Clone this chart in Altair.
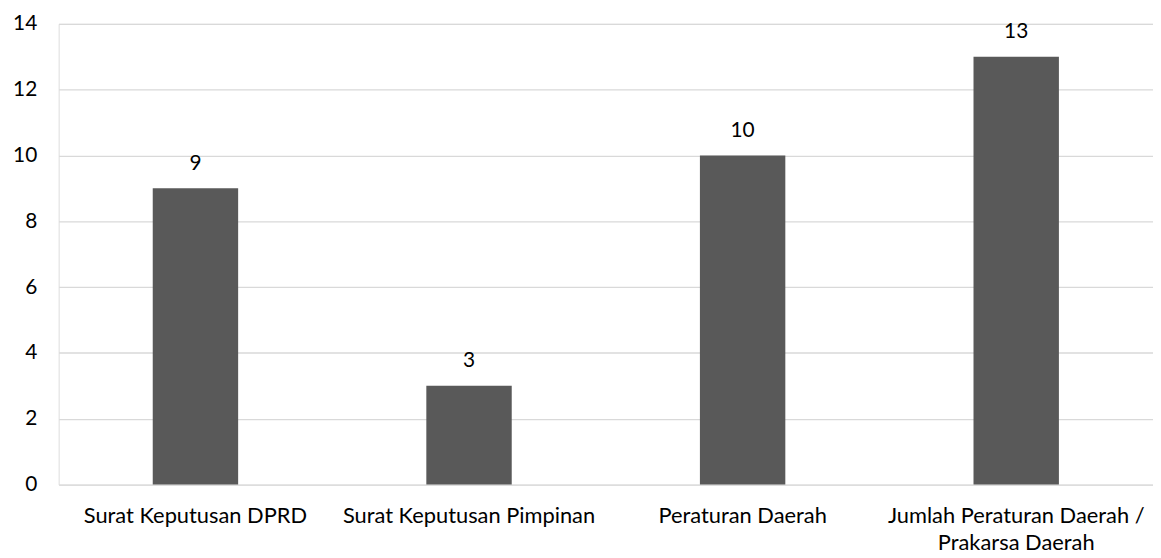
import altair as alt
import pandas as pd

categories = ["Surat Keputusan DPRD", "Surat Keputusan Pimpinan", "Peraturan Daerah",
              "Jumlah Peraturan Daerah / Prakarsa Daerah"]
values = [9, 3, 10, 13]
y_ticks = [0, 2, 4, 6, 8, 10, 12, 14]

df = pd.DataFrame({"cat": categories, "val": values})
FONT = "Lato"
FS = 21

base = alt.Chart(df).encode(
    x=alt.X("cat:N", sort=categories, title=None,
            scale=alt.Scale(paddingInner=0, paddingOuter=0),
            axis=alt.Axis(labelAngle=0, domain=False, ticks=False, labelPadding=38,
                          labelBaseline="alphabetic",
                          labelFontSize=22, labelFont=FONT, labelColor="#000000",
                          labelLineHeight=27, labelLimit=400,
                          labelExpr="datum.label == 'Jumlah Peraturan Daerah / Prakarsa Daerah' ? ['Jumlah Peraturan Daerah /', 'Prakarsa Daerah'] : datum.label")),
)

bars = base.mark_bar(color="#595959", width=86).encode(
    y=alt.Y("val:Q", title=None, scale=alt.Scale(domain=[0, 14], nice=False),
            axis=alt.Axis(values=y_ticks, domain=False, ticks=False, labelPadding=22,
                          labelFontSize=FS, labelFont=FONT, labelColor="#000000",
                          grid=True, gridColor="#d9d9d9", gridWidth=1.3))
)

labels = base.mark_text(baseline="middle", dy=-25, fontSize=FS, font=FONT, color="#000000").encode(
    y="val:Q", text="val:Q"
)

chart = (bars + labels).properties(
    width=1102, height=464,
    autosize=alt.AutoSizeParams(type="none"),
    padding={"left": 51, "top": 14, "right": 0, "bottom": 70},
).configure_view(stroke=None).configure(background="white")

chart.save("out.html", embed_options={"renderer": "svg", "actions": False})
